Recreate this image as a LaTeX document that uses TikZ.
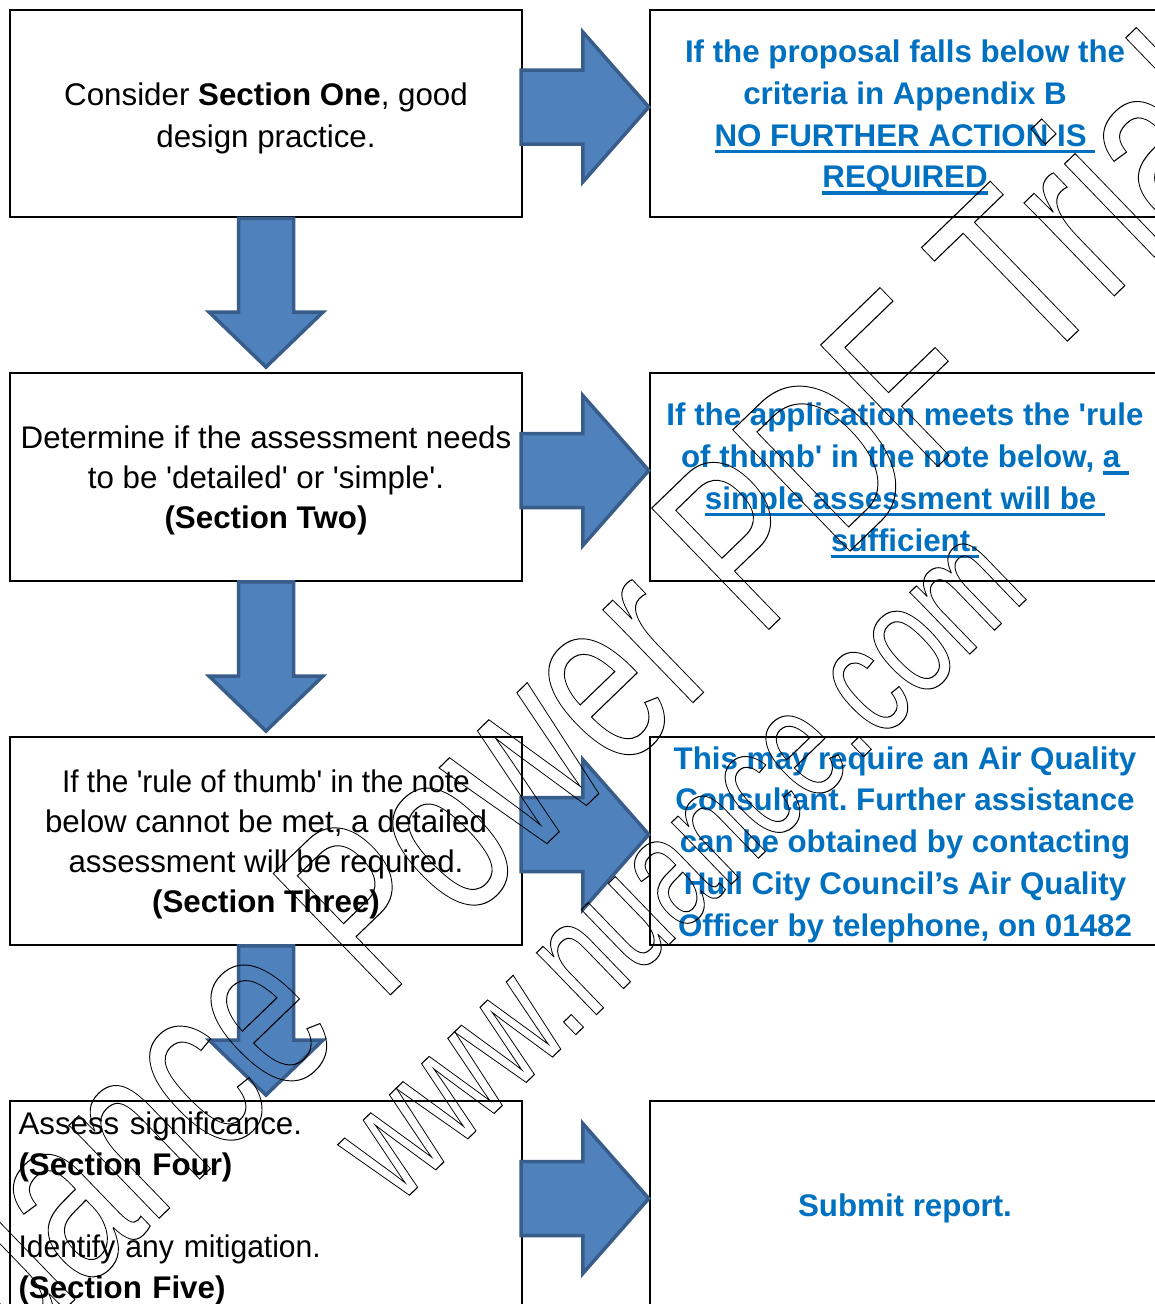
\documentclass[tikz,border=0pt]{standalone}
\usepackage{fontspec}
\setmainfont{Liberation Sans}
\usepackage{graphicx}
\usetikzlibrary{calc}
\frenchspacing
\definecolor{arrowfill}{HTML}{4F81BD}
\definecolor{arrowline}{HTML}{385D8A}
\definecolor{noteblue}{HTML}{0070C0}
\newsavebox{\ulbox}
\newcommand{\ulx}[1]{\sbox{\ulbox}{#1}\rlap{\rule[-6.8pt]{\wd\ulbox}{3.2pt}}\usebox{\ulbox}}
\newcommand{\myq}{\textquotesingle}
\newcommand{\topfix}{\rule{0pt}{30pt}}
\newcommand{\vblockarrow}[2]{%
  \path[blockarrow] let \p1=(#1.south), \p2=(#2.north) in
   (\x1-27.5pt,\y1) -- (\x1+27.5pt,\y1) -- (\x1+27.5pt,\y2+60pt) -- (\x1+57pt,\y2+60pt)
   -- (\x1,\y2+5pt) -- (\x1-57pt,\y2+60pt) -- (\x1-27.5pt,\y2+60pt) -- cycle;}
\newcommand{\hblockarrow}[2]{%
  \path[blockarrow] let \p1=(#1.east), \p2=(#2.west) in
   (\x1-2pt,\y2+43.5pt) -- (\x2-66pt,\y2+43.5pt) -- (\x2-66pt,\y2+81.5pt) -- (\x2,\y2+6.5pt)
   -- (\x2-66pt,\y2-68.5pt) -- (\x2-66pt,\y2-30.5pt) -- (\x1-2pt,\y2-30.5pt) -- cycle;}
\newcommand{\wmtext}[2]{\special{pdf:literal direct 1 Tr 1.1 w}\scalebox{0.69}[1]{\fontsize{#1}{#1}\selectfont #2}\special{pdf:literal direct 0 Tr}}
\begin{document}
\begin{tikzpicture}[x=1pt,y=-1pt,
  box/.style={draw=black, line width=2.4pt, minimum width=512pt, minimum height=207.5pt,
    inner sep=0pt, align=center, font=\fontsize{31.3}{41.5}\selectfont},
  tightbox/.style={box, font=\fontsize{31.3}{40}\selectfont},
  notebox/.style={box, minimum width=510pt, text=noteblue, font=\fontsize{31.3}{41.8}\selectfont\bfseries},
  blockarrow/.style={fill=arrowfill, draw=arrowline, line width=3.5pt, line join=miter},
  wm/.style={inner sep=0pt, anchor=base west, rotate=44, text=black}]
\useasboundingbox (0,0) rectangle (1155,1304);
\fill[white] (0,0) rectangle (1155,1304);
\clip (0,0) rectangle (1155,1304);
% left column
\node[box] (L1) at (266,113.5) {\rule{0pt}{32pt}Consider \textbf{Section One}, good\\design practice.};
\node[tightbox] (L2) at (266,477) {\topfix Determine if the assessment needs\\to be \myq detailed\myq{} or \myq simple\myq.\\\textbf{(Section Two)}};
\node[tightbox] (L3) at (266,841) {\topfix\scalebox{0.953}[1]{If the \myq rule of thumb\myq{} in the note}\\below cannot be met, a detailed\\assessment will be required.\\\textbf{(Section Three)}};
\node[box, text width=495pt, align=left, font=\fontsize{31.3}{41}\selectfont] (L4) at (266,1205)
  {\topfix Assess significance.\\\textbf{(Section Four)}\\[41pt]\scalebox{0.96}[1]{Identify any mitigation.}\\\textbf{(Section Five)}};
% right column
\node[notebox] (R1) at (905,113.5) {\topfix If the proposal falls below the\\criteria in Appendix B\\\ulx{NO FURTHER ACTION IS\ }\\\ulx{REQUIRED}};
\node[notebox] (R2) at (905,477) {\topfix If the application meets the \myq rule\\of thumb\myq{} in the note below, \ulx{a\ }\\\ulx{simple assessment will be\ }\\\ulx{sufficient.}};
\node[notebox] (R3) at (905,841) {\topfix This may require an Air Quality\\Consultant. Further assistance\\can be obtained by contacting\\Hull City Council’s Air Quality\\Officer by telephone, on 01482};
\node[notebox] (R4) at (905,1205) {\topfix Submit report.};
% block arrows
\vblockarrow{L1}{L2}
\vblockarrow{L2}{L3}
\vblockarrow{L3}{L4}
\hblockarrow{L1}{R1}
\hblockarrow{L2}{R2}
\hblockarrow{L3}{R3}
\hblockarrow{L4}{R4}
% watermark
\node[wm] (wm1) at (-72.5,1441.8) {\wmtext{245}{Nuance Power PDF Trial}};
\node[wm] (wm2) at (397.4,1206.8) {\wmtext{163}{www.nuance.com}};
\end{tikzpicture}
\end{document}
